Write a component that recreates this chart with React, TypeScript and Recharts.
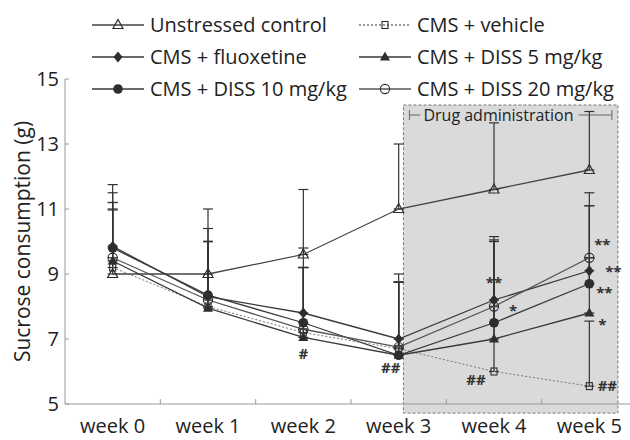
import { LineChart, Line, XAxis, YAxis, ErrorBar, ReferenceArea, ReferenceLine, Legend } from 'recharts';

const WEEKS = [0, 1, 2, 3, 4, 5];
const WEEK_LABELS = ['week 0', 'week 1', 'week 2', 'week 3', 'week 4', 'week 5'];
const Y_TICKS = [5, 7, 9, 11, 13, 15];
const WEEK_BOUNDS = [0.5, 1.5, 2.5, 3.5, 4.5];

// means (g) and upper error (SD)
const control = [9.0, 9.0, 9.6, 11.0, 11.6, 12.2];
const controlErr = [2.5, 2.0, 2.0, 2.0, 2.05, 1.8];
const vehicle = [9.2, 8.0, 7.2, 6.7, 6.0, 5.55];
const vehicleErr = [1.8, 2.0, 2.0, 2.05, 2.0, 2.0];
const fluoxetine = [9.85, 8.3, 7.8, 7.0, 8.2, 9.1];
const fluoxetineErr = [1.9, 2.1, 2.0, 2.0, 1.95, 2.0];
const diss5 = [9.4, 7.95, 7.05, 6.5, 7.0, 7.8];
const diss5Err = [1.8, 2.05, 2.15, 2.25, 3.0, 1.7];
const diss10 = [9.8, 8.35, 7.5, 6.5, 7.5, 8.7];
const diss10Err = [1.4, 1.65, 1.7, 2.25, 2.5, 2.4];
const diss20 = [9.5, 8.2, 7.3, 6.75, 8.0, 9.5];
const diss20Err = [1.47, 1.8, 1.9, 2.0, 2.05, 2.0];

// significance marks: series, week, text, offset from the point
const MARKS = [
  { series: 'vehicle', week: 2, text: '#', dx: 0, dy: 26 },
  { series: 'vehicle', week: 3, text: '##', dx: -8, dy: 24 },
  { series: 'vehicle', week: 4, text: '##', dx: -18, dy: 13 },
  { series: 'vehicle', week: 5, text: '##', dx: 18, dy: 5 },
  { series: 'fluoxetine', week: 4, text: '**', dx: 0, dy: -12 },
  { series: 'diss20', week: 4, text: '*', dx: 19, dy: 9 },
  { series: 'diss20', week: 5, text: '**', dx: 13, dy: -8 },
  { series: 'fluoxetine', week: 5, text: '**', dx: 24, dy: 6 },
  { series: 'diss10', week: 5, text: '**', dx: 15, dy: 14 },
  { series: 'diss5', week: 5, text: '*', dx: 13, dy: 17 },
];

const INK = '#2e2e2e';

const SERIES = [
  { key: 'control', name: 'Unstressed control', values: control, err: controlErr, marker: 'triangleOpen', color: '#444', dash: undefined },
  { key: 'vehicle', name: 'CMS + vehicle', values: vehicle, err: vehicleErr, marker: 'square', color: '#777', dash: '2 2' },
  { key: 'fluoxetine', name: 'CMS + fluoxetine', values: fluoxetine, err: fluoxetineErr, marker: 'diamond', color: '#3a3a3a', dash: undefined },
  { key: 'diss5', name: 'CMS + DISS 5 mg/kg', values: diss5, err: diss5Err, marker: 'triangle', color: '#3a3a3a', dash: undefined },
  { key: 'diss10', name: 'CMS + DISS 10 mg/kg', values: diss10, err: diss10Err, marker: 'circle', color: '#3a3a3a', dash: undefined },
  { key: 'diss20', name: 'CMS + DISS 20 mg/kg', values: diss20, err: diss20Err, marker: 'circleOpen', color: '#555', dash: undefined },
];

const data = WEEKS.map((w, i) => {
  const row: Record<string, any> = { x: w };
  SERIES.forEach((s) => {
    row[s.key] = s.values[i];
    row[s.key + 'Err'] = [0, s.err[i]];
  });
  return row;
});

function Marker({ kind, cx, cy }: { kind: string; cx: number; cy: number }) {
  switch (kind) {
    case 'triangleOpen':
      return <path d={`M${cx},${cy - 5.5}L${cx + 5},${cy + 3.5}L${cx - 5},${cy + 3.5}Z`} fill="none" stroke={INK} strokeWidth={1.2} />;
    case 'triangle':
      return <path d={`M${cx},${cy - 5.5}L${cx + 5},${cy + 3.5}L${cx - 5},${cy + 3.5}Z`} fill={INK} />;
    case 'square':
      return <rect x={cx - 3} y={cy - 3.5} width={6} height={7} fill="none" stroke={INK} strokeWidth={1.1} />;
    case 'diamond':
      return <path d={`M${cx},${cy - 5.5}L${cx + 4.5},${cy}L${cx},${cy + 5.5}L${cx - 4.5},${cy}Z`} fill={INK} />;
    case 'circle':
      return <circle cx={cx} cy={cy} r={4.8} fill={INK} />;
    default:
      return <circle cx={cx} cy={cy} r={4.6} fill="none" stroke={INK} strokeWidth={1.1} />;
  }
}

const renderDot = (s: (typeof SERIES)[number]) => (p: any) => {
  const marks = MARKS.filter((m) => m.series === s.key && m.week === WEEKS[p.index]);
  return (
    <g key={`${s.key}-${p.index}`}>
      <Marker kind={s.marker} cx={p.cx} cy={p.cy} />
      {marks.map((m) => (
        <text
          key={m.text + m.week}
          x={p.cx + m.dx}
          y={p.cy + m.dy}
          textAnchor="middle"
          fontSize={15}
          fontWeight="bold"
          fill="#333"
        >
          {m.text}
        </text>
      ))}
    </g>
  );
};

const LEGEND_ORDER = ['control', 'vehicle', 'fluoxetine', 'diss5', 'diss10', 'diss20'];

function LegendBox() {
  return (
    <svg width={630} height={105}>
      {LEGEND_ORDER.map((k, i) => {
        const s = SERIES.find((x) => x.key === k)!;
        const x = i % 2 === 0 ? 92 : 359;
        const y = 25 + Math.floor(i / 2) * 32;
        return (
          <g key={k}>
            <line x1={x} x2={x + 52} y1={y} y2={y} stroke={s.color} strokeWidth={1.3} strokeDasharray={s.dash} />
            <Marker kind={s.marker} cx={x + 26} cy={y} />
            <text x={x + 58} y={y + 7} fontSize={20} fill="#222">
              {s.name}
            </text>
          </g>
        );
      })}
    </svg>
  );
}

function DrugLabel({ viewBox }: any) {
  const { x, y, width } = viewBox;
  const by = y + 10;
  return (
    <g>
      <line x1={x + 6} x2={x + 17} y1={by} y2={by} stroke="#666" />
      <line x1={x + 6} x2={x + 6} y1={by - 5} y2={by + 5} stroke="#666" />
      <line x1={x + 175} x2={x + width - 6} y1={by} y2={by} stroke="#666" />
      <line x1={x + width - 6} x2={x + width - 6} y1={by - 5} y2={by + 5} stroke="#666" />
      <text x={x + 20} y={by + 6} fontSize={16} fill="#222">
        Drug administration
      </text>
    </g>
  );
}

function YTitle({ viewBox }: any) {
  const cx = viewBox.x + 22;
  const cy = viewBox.y + viewBox.height / 2;
  return (
    <text x={cx} y={cy} transform={`rotate(-90 ${cx} ${cy})`} textAnchor="middle" dominantBaseline="central" fontSize={21} fill="#222">
      Sucrose consumption (g)
    </text>
  );
}

export default function App() {
  return (
    <div
      style={{
        position: 'fixed',
        left: 0,
        top: 0,
        width: 630,
        height: 440,
        overflow: 'hidden',
        background: '#fff',
        fontFamily: '"Open Sans", sans-serif',
      }}
    >
      <LineChart width={640} height={440} data={data} margin={{ top: 79, right: 3, bottom: 0, left: 0 }}>
        <ReferenceArea
          x1={3.05}
          x2={5.3}
          y1={4.72}
          y2={14.2}
          ifOverflow="visible"
          fill="#dadada"
          fillOpacity={1}
          stroke="#777"
          strokeDasharray="3 2"
          label={<DrugLabel />}
        />
        <XAxis
          type="number"
          dataKey="x"
          domain={[-0.5, 5.5]}
          ticks={WEEKS}
          interval={0}
          tickFormatter={(v: number) => WEEK_LABELS[v]}
          tickLine={false}
          tickSize={0}
          tickMargin={15}
          height={36}
          axisLine={{ stroke: '#999' }}
          tick={{ fill: '#222', fontSize: 20 }}
        />
        <YAxis
          domain={[5, 15]}
          ticks={Y_TICKS}
          interval={0}
          width={65}
          tickSize={-4}
          tickMargin={10}
          axisLine={{ stroke: '#999' }}
          tickLine={{ stroke: '#999' }}
          tick={{ fill: '#222', fontSize: 20 }}
          label={<YTitle />}
        />
        {WEEK_BOUNDS.map((b) => (
          <ReferenceLine
            key={b}
            segment={[
              { x: b, y: 5 },
              { x: b, y: 5.15 },
            ]}
            stroke="#999"
          />
        ))}
        {SERIES.map((s) => (
          <Line
            key={s.key}
            dataKey={s.key}
            name={s.name}
            stroke={s.color}
            strokeWidth={s.dash ? 1 : 1.3}
            strokeDasharray={s.dash}
            dot={renderDot(s)}
            activeDot={false}
            isAnimationActive={false}
          >
            <ErrorBar dataKey={s.key + 'Err'} direction="y" width={5} stroke="#333" strokeWidth={1.2} isAnimationActive={false} />
          </Line>
        ))}
        <Legend
          layout="horizontal"
          verticalAlign="middle"
          align="center"
          wrapperStyle={{ top: 0, left: 0, width: 630, height: 105 }}
          content={() => <LegendBox />}
        />
      </LineChart>
    </div>
  );
}
